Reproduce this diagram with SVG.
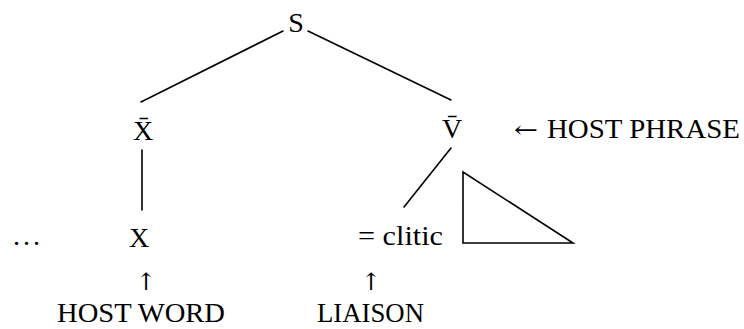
<svg xmlns="http://www.w3.org/2000/svg" width="744" height="329" viewBox="0 0 744 329">
<style>
  text { font-family: "Liberation Serif", "DejaVu Serif", serif; font-size: 28px; fill: #000; }
  .mid { text-anchor: middle; }
  .arrow { font-family: "DejaVu Serif", "Liberation Serif", serif; font-size: 24px; }
  .edge { stroke: #000; stroke-width: 1.6; fill: none; stroke-linecap: round; }
</style>
<rect width="744" height="329" fill="#fff"/>
<g id="connectors">
  <line class="edge" x1="283" y1="31" x2="141" y2="102"/>
  <line class="edge" x1="308" y1="31" x2="451" y2="100"/>
  <line class="edge" x1="142" y1="150" x2="142" y2="210"/>
  <line class="edge" x1="451" y1="148" x2="404" y2="207"/>
</g>
<g id="node-S"><text class="mid" x="296" y="32">S</text></g>
<g id="node-Xbar"><text class="mid" x="143" y="140">X̄</text></g>
<g id="node-Vbar"><text class="mid" x="452" y="138">V̄</text></g>
<g id="label-host-phrase">
  <text class="arrow" x="514" y="138" textLength="24" lengthAdjust="spacingAndGlyphs">←</text>
  <text x="547" y="138" textLength="193" lengthAdjust="spacingAndGlyphs">HOST PHRASE</text>
</g>
<g id="node-triangle"><polygon class="edge" points="463,172 463,243 573,243" stroke-linejoin="miter"/></g>
<g id="node-clitic"><text x="358" y="245" textLength="85" lengthAdjust="spacingAndGlyphs">= clitic</text></g>
<g id="node-X"><text class="mid" x="139" y="247">X</text></g>
<g id="node-dots"><text x="13" y="245" textLength="27" lengthAdjust="spacing">. . .</text></g>
<g id="label-host-word">
  <text class="mid arrow" x="146" y="290">↑</text>
  <text x="57" y="322" textLength="168" lengthAdjust="spacingAndGlyphs">HOST WORD</text>
</g>
<g id="label-liaison">
  <text class="mid arrow" x="371" y="290">↑</text>
  <text x="317" y="322" textLength="107" lengthAdjust="spacingAndGlyphs">LIAISON</text>
</g>
</svg>
